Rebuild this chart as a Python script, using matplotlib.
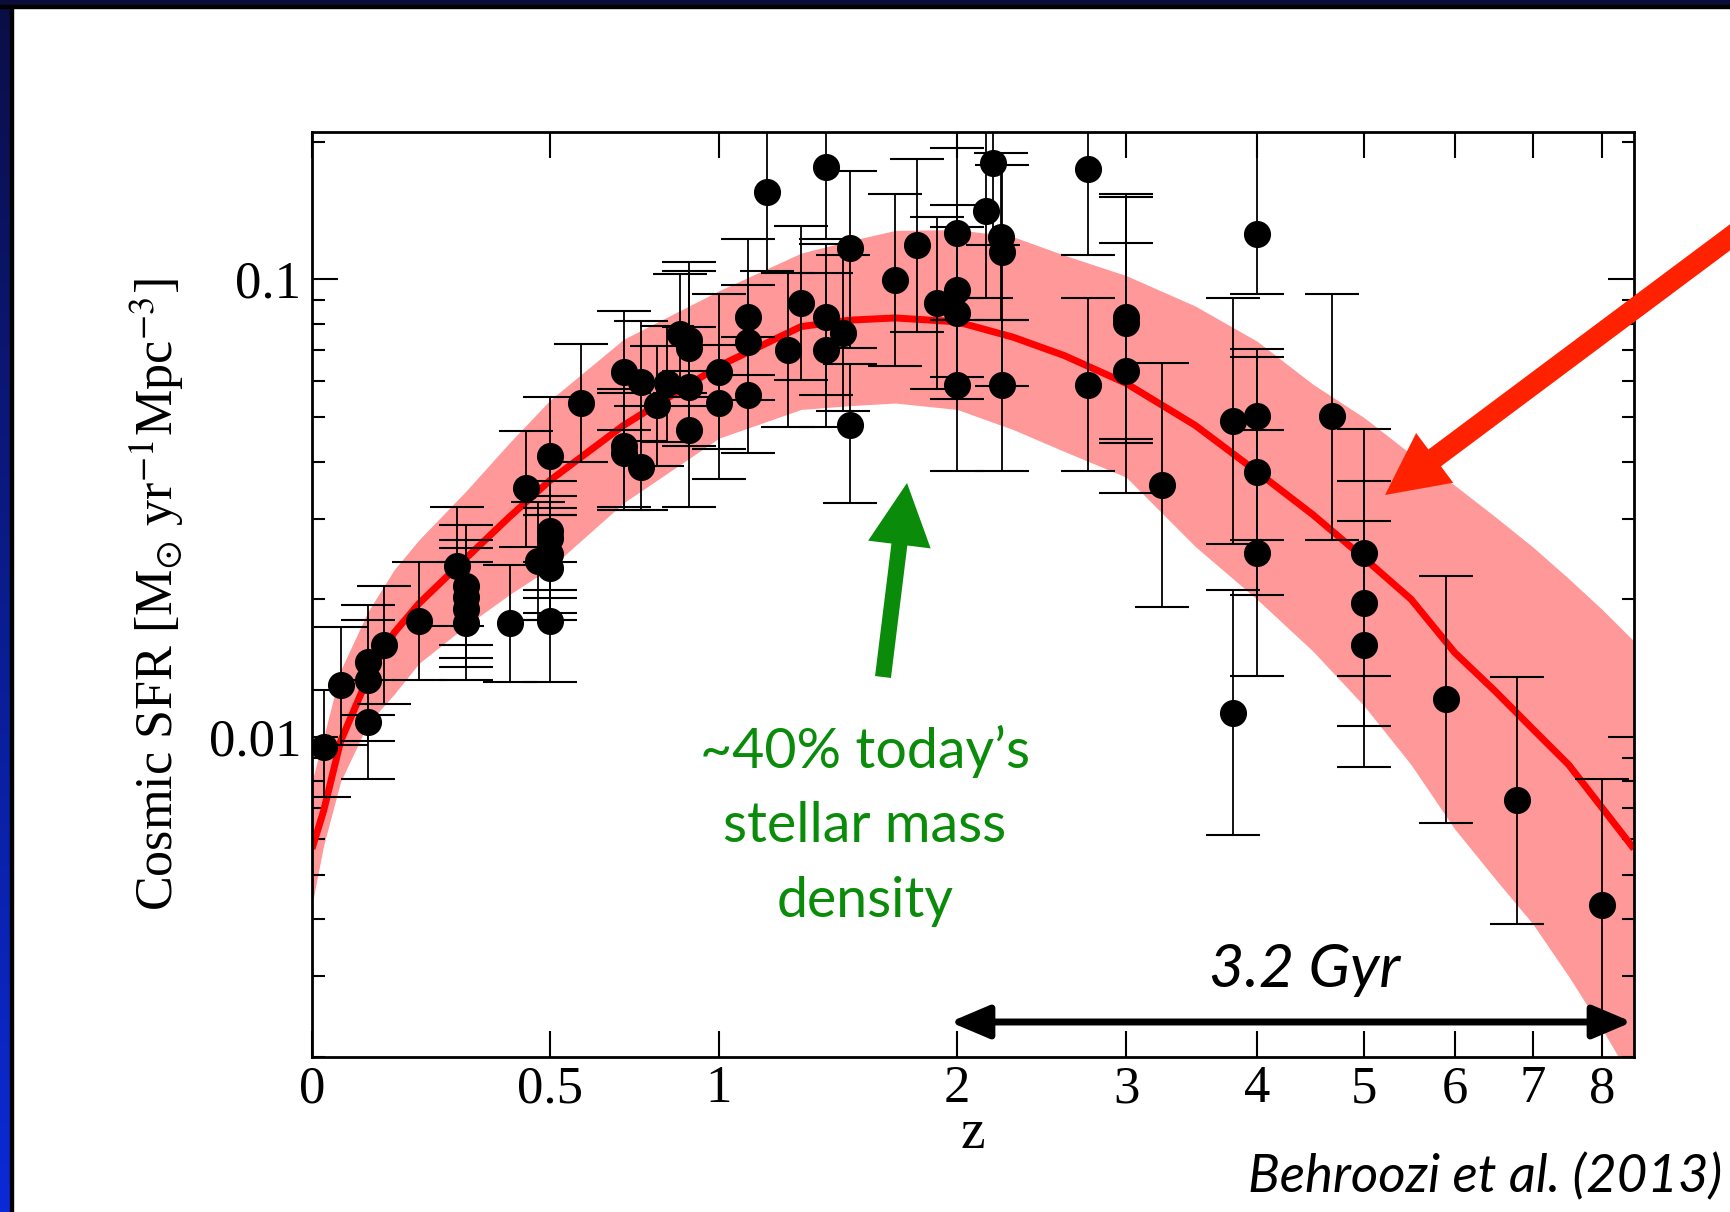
import numpy as np
import matplotlib
matplotlib.use("Agg")
import matplotlib.pyplot as plt
from matplotlib.patches import FancyArrowPatch, Rectangle
from matplotlib.transforms import IdentityTransform
from matplotlib.ticker import FixedLocator, FixedFormatter, NullLocator, LogLocator, NullFormatter

plt.rcParams['font.family'] = ['Liberation Serif', 'DejaVu Serif']
plt.rcParams['mathtext.fontset'] = 'stix'

# ---------------- data ----------------
pt_z = [0.02, 0.05, 0.10, 0.10, 0.10, 0.13, 0.20, 0.28, 0.30, 0.30, 0.30, 0.30,
        0.40, 0.44, 0.47, 0.50, 0.50, 0.50, 0.50, 0.50, 0.50, 0.58, 0.70, 0.70,
        0.70, 0.75, 0.75, 0.80, 0.83, 0.87, 0.90, 0.90, 0.90, 0.90, 1.00, 1.00,
        1.10, 1.10, 1.10, 1.17, 1.25, 1.30, 1.40, 1.40, 1.40, 1.47, 1.50, 1.50,
        1.70, 1.80, 1.90, 2.00, 2.00, 2.00, 2.00, 2.15, 2.19, 2.23, 2.24, 2.24,
        2.75, 2.75, 3.00, 3.00, 3.00, 3.25, 3.80, 3.80, 4.00, 4.00, 4.00, 4.00,
        4.68, 5.00, 5.00, 5.00, 5.90, 6.79, 7.99]
pt_sfr = [0.0095, 0.0130, 0.0146, 0.0133, 0.0108, 0.0159, 0.0179, 0.0237, 0.0214, 0.0202, 0.0191, 0.0178,
          0.0178, 0.0350, 0.0242, 0.0411, 0.0282, 0.0272, 0.0251, 0.0234, 0.0179, 0.0536, 0.0629, 0.0432,
          0.0418, 0.0598, 0.0389, 0.0533, 0.0595, 0.0759, 0.0738, 0.0710, 0.0582, 0.0469, 0.0629, 0.0536,
          0.0829, 0.0730, 0.0560, 0.155, 0.0702, 0.0890, 0.176, 0.0829, 0.0702, 0.0763, 0.1174, 0.0480,
          0.0995, 0.1187, 0.0890, 0.1261, 0.0946, 0.0843, 0.0589, 0.1408, 0.1796, 0.1240, 0.1148, 0.0589,
          0.1747, 0.0589, 0.0829, 0.0802, 0.0632, 0.0356, 0.0491, 0.0113, 0.1254, 0.0502, 0.0380, 0.0253,
          0.0502, 0.0253, 0.0196, 0.0159, 0.0121, 0.0073, 0.0043]
pt_hi = [0.0127, 0.0174, 0.0194, 0.0180, 0.0133, 0.0214, 0.0241, 0.0319, 0.0290, 0.0270, 0.0259, 0.0241,
         0.0238, 0.0467, 0.0326, 0.0554, 0.0362, 0.0337, 0.0317, 0.0305, 0.0241, 0.0722, 0.0852, 0.0576,
         0.0566, 0.0811, 0.0530, 0.0714, 0.0793, 0.1028, 0.1093, 0.1045, 0.0789, 0.0632, 0.0931, 0.0718,
         0.1227, 0.0973, 0.0750, 0.25, 0.1034, 0.1311, 0.25, 0.1193, 0.1034, 0.1129, 0.1728, 0.0654,
         0.1539, 0.1835, 0.1370, 0.1940, 0.1457, 0.1303, 0.0911, 0.25, 0.25, 0.1887, 0.1776, 0.0815,
         0.25, 0.0911, 0.1539, 0.1513, 0.1200, 0.0657, 0.0911, 0.0210, 0.25, 0.0706, 0.0676, 0.0469,
         0.0931, 0.0472, 0.0362, 0.0297, 0.0225, 0.0135, 0.0081]
pt_lo = [0.0074, 0.0096, 0.0112, 0.0098, 0.0081, 0.0118, 0.0133, 0.0175, 0.0159, 0.0149, 0.0142, 0.0133,
         0.0132, 0.0260, 0.0180, 0.0305, 0.0210, 0.0201, 0.0187, 0.0180, 0.0132, 0.0400, 0.0469, 0.0318,
         0.0314, 0.0444, 0.0314, 0.0391, 0.0442, 0.0566, 0.0554, 0.0530, 0.0432, 0.0318, 0.0427, 0.0366,
         0.0619, 0.0545, 0.0418, 0.1045, 0.0475, 0.0602, 0.1227, 0.0560, 0.0475, 0.0516, 0.0710, 0.0324,
         0.0647, 0.0767, 0.0576, 0.0815, 0.0612, 0.0548, 0.0382, 0.0911, 0.1187, 0.0815, 0.0585, 0.0382,
         0.1129, 0.0382, 0.0449, 0.0439, 0.0341, 0.0192, 0.0264, 0.0061, 0.0931, 0.0270, 0.0204, 0.0136,
         0.0270, 0.0136, 0.0106, 0.0086, 0.0065, 0.0039, 0.0015]

band_z = [0.0, 0.02, 0.05, 0.10, 0.15, 0.20, 0.30, 0.40, 0.50, 0.70, 1.00, 1.30, 1.50, 1.70,
          2.00, 2.30, 2.60, 3.00, 3.50, 4.00, 4.50, 5.00, 5.50, 6.00, 6.50, 7.00, 7.50, 8.00, 8.50]
band_med = [0.0057, 0.0069, 0.0098, 0.0135, 0.0169, 0.0196, 0.0246, 0.0303, 0.0364, 0.0480, 0.0647,
            0.0789, 0.0815, 0.0824, 0.0808, 0.0748, 0.0682, 0.0593, 0.0480, 0.0380, 0.0306, 0.0246,
            0.0200, 0.0153, 0.0126, 0.0104, 0.0087, 0.0070, 0.0057]
band_hi = [0.0080, 0.0100, 0.0140, 0.0188, 0.0232, 0.0270, 0.0345, 0.0440, 0.0545, 0.0740, 0.0945,
           0.1142, 0.1215, 0.1280, 0.1285, 0.1240, 0.1130, 0.1020, 0.0875, 0.0733, 0.0590, 0.0499,
           0.0415, 0.0355, 0.0303, 0.0260, 0.0222, 0.0190, 0.0162]
band_lo = [0.0043, 0.0058, 0.0080, 0.0107, 0.0124, 0.0145, 0.0175, 0.0205, 0.0234, 0.0325, 0.0450,
           0.0520, 0.0530, 0.0537, 0.0520, 0.0470, 0.0421, 0.0370, 0.0261, 0.0200, 0.0154, 0.0117,
           0.0087, 0.0063, 0.0049, 0.0039, 0.0030, 0.0023, 0.00175]

xtick_vals = [0, 0.5, 1, 2, 3, 4, 5, 6, 7, 8]
xtick_labels = ['0', '0.5', '1', '2', '3', '4', '5', '6', '7', '8']
ytick_vals = [0.01, 0.1]
ytick_labels = ['0.01', '0.1']

green_lines = ['~40% today\u2019s', 'stellar mass', 'density']

# ---------------- figure ----------------
W, H = 1731, 1212
fig = plt.figure(figsize=(W / 100, H / 100), dpi=100)
fig.patch.set_facecolor('white')

# slide frame: blue gradient strip on the left, navy strip on top
strip = fig.add_axes([0, 0, 10 / W, 1])
top_c = np.array([10, 14, 70]) / 255.0
bot_c = np.array([10, 42, 215]) / 255.0
t = np.linspace(0, 1, 256)[:, None, None]
grad = top_c[None, None, :] * (1 - t) + bot_c[None, None, :] * t
strip.imshow(grad, aspect='auto', extent=[0, 1, 0, 1])
strip.axis('off')
fig.add_artist(Rectangle((10 / W, 0), 3 / W, 1, transform=fig.transFigure, color='black', zorder=1))
fig.add_artist(Rectangle((0, 1 - 5 / H), 1, 5 / H, transform=fig.transFigure, color='#0a0d3a', zorder=1))
fig.add_artist(Rectangle((0, 1 - 8 / H), 1, 3 / H, transform=fig.transFigure, color='black', zorder=1))

ax_l, ax_r, ax_t, ax_b = 312, 1634, 132, 1057
ax = fig.add_axes([ax_l / W, 1 - ax_b / H, (ax_r - ax_l) / W, (ax_b - ax_t) / H])


def fwd(z):
    return np.log10(np.maximum(1.0 + np.asarray(z, dtype=float), 1e-6))


def inv(u):
    return 10.0 ** np.asarray(u, dtype=float) - 1.0


ax.set_xscale('function', functions=(fwd, inv))
ax.set_yscale('log')
ax.set_xlim(0, 8.5)
ax.set_ylim(0.0020, 0.21)

ax.fill_between(band_z, band_lo, band_hi, color='#ff9898', lw=0, zorder=1)
ax.plot(band_z, band_med, color='#ff0000', lw=5, zorder=2, solid_capstyle='butt',
        solid_joinstyle='round')

z = np.array(pt_z)
s = np.array(pt_sfr)
yerr = [s - np.array(pt_lo), np.array(pt_hi) - s]
ax.errorbar(z, s, yerr=yerr, fmt='o', color='black', ms=18.5, elinewidth=1.3,
            capsize=19.5, capthick=1.5, zorder=3)

# ticks
ax.xaxis.set_major_locator(FixedLocator(xtick_vals))
ax.xaxis.set_major_formatter(FixedFormatter(xtick_labels))
ax.xaxis.set_minor_locator(NullLocator())
ax.yaxis.set_major_locator(FixedLocator(ytick_vals))
ax.yaxis.set_major_formatter(FixedFormatter(ytick_labels))
ax.yaxis.set_minor_locator(LogLocator(base=10, subs=np.arange(2, 10), numticks=30))
ax.yaxis.set_minor_formatter(NullFormatter())
ax.tick_params(which='both', direction='in', top=True, right=True, width=1.5, colors='black')
ax.tick_params(which='major', length=19, labelsize=38)
ax.tick_params(which='minor', length=9)
ax.tick_params(axis='x', which='major', pad=6)
ax.tick_params(axis='y', which='major', pad=8)
for sp in ax.spines.values():
    sp.set_linewidth(2)

# axis labels
ax.set_xlabel('z', fontsize=40)
ax.xaxis.set_label_coords(0.5, -(1148 - ax_b) / (ax_b - ax_t))
ax.xaxis.label.set_verticalalignment('baseline')
ax.set_ylabel(r'Cosmic SFR [M$_{\odot}$ yr$^{-1}$Mpc$^{-3}$]', fontsize=37.5)
ax.yaxis.set_label_coords(-(ax_l - 173) / (ax_r - ax_l), 0.5)
ax.yaxis.label.set_verticalalignment('baseline')

# green annotation
green = '#0a8c0a'
for txt, yb in zip(green_lines, [768, 842, 917]):
    ax.text((865 - ax_l) / (ax_r - ax_l), (ax_b - yb) / (ax_b - ax_t), txt,
            transform=ax.transAxes, ha='center', va='baseline', color=green,
            fontsize=40, family=['Lato', 'DejaVu Sans'], zorder=6)

pt2px = 100 / 72.0


def px_arrow(x0, y0, x1, y1, hl, hw, tw, color):
    a = FancyArrowPatch(posA=(x0, H - y0), posB=(x1, H - y1), transform=IdentityTransform(),
                        arrowstyle='simple,head_length=%.2f,head_width=%.2f,tail_width=%.2f'
                        % (hl / pt2px, hw / pt2px, tw / pt2px),
                        mutation_scale=1, color=color, lw=0, shrinkA=0, shrinkB=0, zorder=10)
    fig.add_artist(a)


px_arrow(883, 677, 907, 483, 62, 63, 16, green)
px_arrow(1760, 215, 1385, 495, 62, 62, 21, '#ff2200')

# 3.2 Gyr double arrow
ya = (ax_b - 1022) / (ax_b - ax_t)
dbl = FancyArrowPatch(posA=((950 - ax_l) / (ax_r - ax_l), ya), posB=((ax_r - 2 - ax_l) / (ax_r - ax_l), ya),
                      transform=ax.transAxes,
                      arrowstyle='<|-|>,head_length=%.2f,head_width=%.2f' % (33 / pt2px, 14 / pt2px),
                      mutation_scale=1, color='black', lw=5, shrinkA=0, shrinkB=0,
                      clip_on=False, zorder=8)
ax.add_patch(dbl)
ax.text((1305 - ax_l) / (ax_r - ax_l), (ax_b - 987) / (ax_b - ax_t), '3.2 Gyr',
        transform=ax.transAxes, ha='center', va='baseline', fontsize=44,
        style='italic', family=['Lato', 'DejaVu Sans'], color='black', zorder=8)

fig.text(1722 / W, 1 - 1192 / H, 'Behroozi et al. (2013)', ha='right', va='baseline',
         fontsize=38, style='italic', family=['Lato', 'DejaVu Sans'], color='black')

fig.savefig('out.png', dpi=100)
